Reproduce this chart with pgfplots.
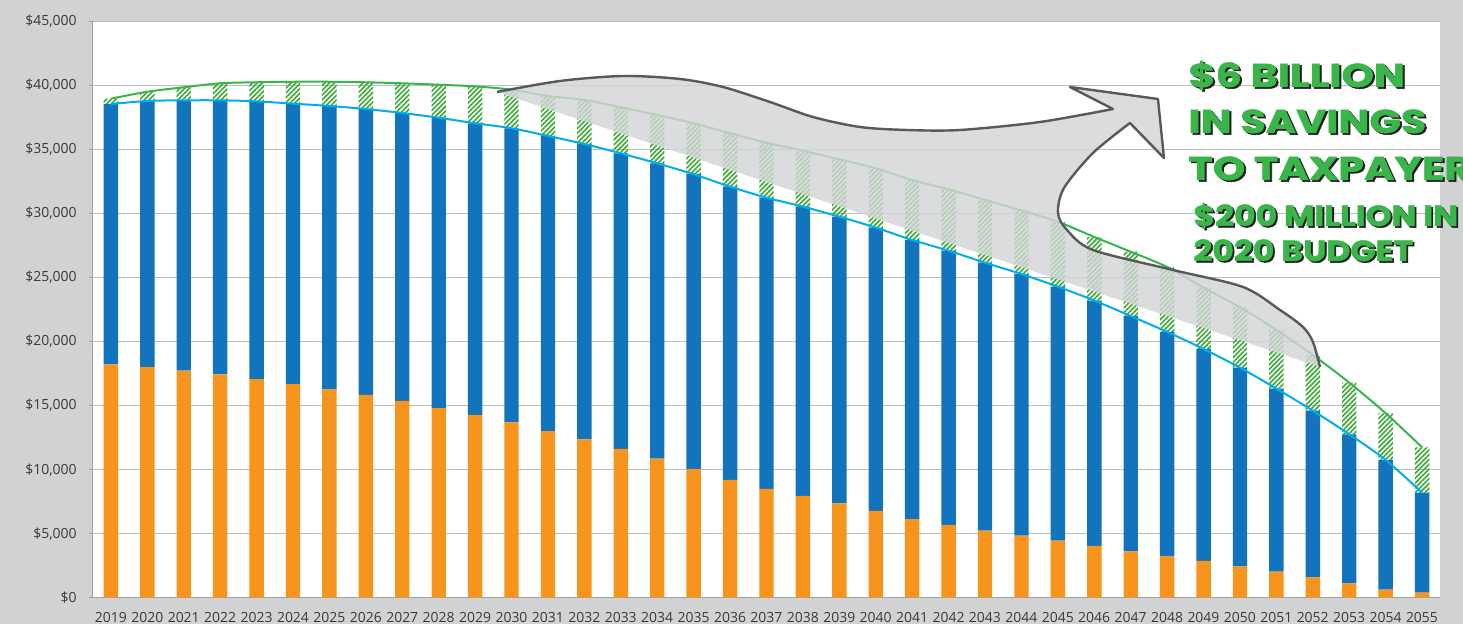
\documentclass[border=0pt]{standalone}
\usepackage{fontspec}
\setmainfont{Open Sans}
\newfontfamily\bigfont{Poppins}[BoldFeatures={FakeBold=1.5}]
\usepackage{pgfplots}
\pgfplotsset{compat=1.18}
\usepackage{pgfplotstable}
\usetikzlibrary{patterns.meta}

\definecolor{bg}{HTML}{D1D2D4}
\definecolor{orangebar}{HTML}{F7941D}
\definecolor{bluebar}{HTML}{1174BC}
\definecolor{hatchgreen}{HTML}{3AAA35}
\definecolor{bluel}{HTML}{00AEEF}
\definecolor{greenl}{HTML}{39B54A}
\definecolor{gridc}{HTML}{BEBEBE}
\definecolor{axisc}{HTML}{A0A0A0}
\definecolor{txt}{HTML}{3A3A3A}
\definecolor{arrowfill}{HTML}{D4D5D7}
\definecolor{arrowline}{HTML}{58595B}
\definecolor{biggreen}{HTML}{39B54A}
\definecolor{shadowc}{HTML}{231F20}

\pgfplotstableread{
year orange bluetot greentot
2019 18220 38540 38960
2020 18010 38780 39500
2021 17720 38830 39850
2022 17440 38830 40160
2023 17070 38750 40240
2024 16680 38570 40280
2025 16270 38390 40280
2026 15830 38150 40240
2027 15360 37840 40160
2028 14810 37470 40050
2029 14260 37040 39920
2030 13690 36650 39660
2031 13010 36050 39170
2032 12370 35420 38860
2033 11610 34690 38290
2034 10850 33910 37690
2035 10050 33060 37040
2036 9190 32090 36260
2037 8490 31230 35520
2038 7940 30530 34900
2039 7370 29750 34230
2040 6770 28890 33520
2041 6140 27930 32610
2042 5680 27090 31880
2043 5230 26150 31050
2044 4840 25270 30230
2045 4450 24280 29350
2046 4040 23200 28160
2047 3620 21990 27010
2048 3260 20750 25820
2049 2870 19420 24200
2050 2450 17960 22680
2051 2030 16320 20900
2052 1590 14600 18950
2053 1120 12760 16790
2054 630 10750 14400
2055 390 8200 11740
}\data

\newcommand\bigtxt[5]{%
  \node[anchor=base west, inner sep=0, text=shadowc, font=#3, xscale=#4, xshift=0.8bp, yshift=-0.8bp] at (#1,#2) {#5};
  \node[anchor=base west, inner sep=0, text=biggreen, font=#3, xscale=#4] at (#1,#2) {#5};
}

\begin{document}
\begin{tikzpicture}
\fill[bg] (-46.35bp,-13.15bp) rectangle (685.15bp,298.85bp);
\useasboundingbox (-46.35bp,-13.15bp) rectangle (685.15bp,298.85bp);

\pgfplotsset{
  base/.style={
    scale only axis, width=673.8bp, height=288.2bp,
    at={(0,0)}, anchor=south west,
    xmin=2018.5, xmax=2055.5, ymin=0, ymax=45000,
  }
}

\begin{axis}[base,
  axis background/.style={fill=white},
  ybar stacked, bar width=7.2bp,
  axis x line*=bottom, axis y line*=left,
  axis line style={draw=axisc, line width=0.6bp, -},
  ytick={0,5000,...,45000},
  scaled y ticks=false,
  ymajorgrids, grid style={gridc, line width=0.6bp},
  /pgf/number format/1000 sep={,},
  /pgf/number format/assume math mode=true,
  yticklabel={\$\pgfmathprintnumber{\tick}},
  ytick style={draw=axisc, line width=0.6bp},
  tick align=outside, major tick length=2bp,
  xtick={2019,...,2055},
  xticklabel={\pgfmathparse{int(round(\tick))}\pgfmathresult},
  xtick style={draw=none},
  extra x ticks={2018.5,2019.5,...,2055.5},
  extra x tick labels={},
  extra x tick style={grid=none, major tick length=2.5bp, tick style={draw=axisc, line width=0.6bp}},
  tick label style={font=\fontsize{7}{8}\selectfont, text=txt},
  yticklabel style={xshift=-2.5bp},
  xticklabel style={yshift=-2bp},
]
\addplot[fill=orangebar, draw=none] table[x=year, y=orange] {\data};
\addplot[fill=bluebar, draw=none] table[x=year, y expr=\thisrow{bluetot}-\thisrow{orange}] {\data};
\addplot[draw=none, pattern={Lines[angle=45, distance=1.7bp, line width=0.8bp]}, pattern color=hatchgreen] table[x=year, y expr=\thisrow{greentot}-\thisrow{bluetot}] {\data};
\end{axis}

\begin{axis}[base, hide axis]
\addplot[bluel, line width=1bp, smooth, no markers] table[x=year, y=bluetot] {\data};
\addplot[greenl, line width=1bp, smooth, no markers] table[x=year, y=greentot] {\data};
\end{axis}

\begin{scope}[x=0.5bp, y=-0.5bp, shift={(-46.35bp,298.85bp)}]
\fill[arrowfill, fill opacity=0.82]
  plot[smooth] coordinates {(497,92) (560,81) (623,76) (680,79) (723,87) (770,102) (813,117) (860,127) (907,130) (960,130) (1040,122) (1113,109)}
  -- (1070,87) -- (1158,99) -- (1164,158) -- (1130,123)
  -- plot[smooth] coordinates {(1130,123) (1093,153) (1064,188) (1058,213) (1067,230) (1093,250) (1173,270) (1243,287) (1280,310) (1303,327) (1313,342) (1320,367)}
  -- cycle;
\draw[arrowline, line width=1.2bp, line join=round]
  plot[smooth] coordinates {(497,92) (560,81) (623,76) (680,79) (723,87) (770,102) (813,117) (860,127) (907,130) (960,130) (1040,122) (1113,109)}
  -- (1070,87) -- (1158,99) -- (1164,158) -- (1130,123)
  -- plot[smooth] coordinates {(1130,123) (1093,153) (1064,188) (1058,213) (1067,230) (1093,250) (1173,270) (1243,287) (1280,310) (1303,327) (1313,342) (1320,367)};

\bigtxt{1188}{87}{\bigfont\bfseries\fontsize{16.5bp}{18bp}\selectfont}{1.25}{\$6 BILLION}
\bigtxt{1188}{133}{\bigfont\bfseries\fontsize{16.5bp}{18bp}\selectfont}{1.25}{IN SAVINGS}
\bigtxt{1188}{180}{\bigfont\bfseries\fontsize{16.5bp}{18bp}\selectfont}{1.25}{TO TAXPAYER}
\bigtxt{1193}{226}{\bigfont\bfseries\fontsize{14.5bp}{16bp}\selectfont}{1.14}{\$200 MILLION IN}
\bigtxt{1193}{261}{\bigfont\bfseries\fontsize{14.5bp}{16bp}\selectfont}{1.14}{2020 BUDGET}
\end{scope}
\end{tikzpicture}
\end{document}
